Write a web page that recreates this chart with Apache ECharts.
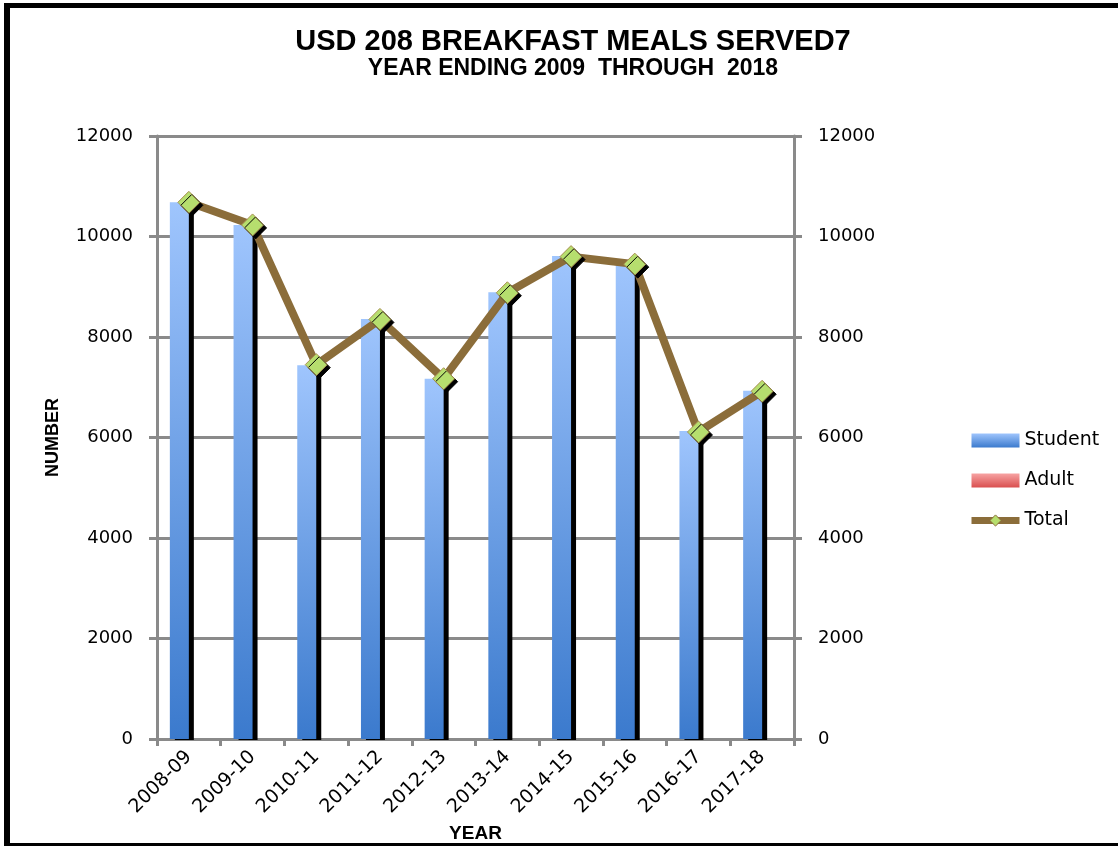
<!DOCTYPE html>
<html>
<head>
<meta charset="utf-8">
<script src="https://cdn.jsdelivr.net/npm/echarts@6/dist/echarts.min.js"></script>
<style>
html,body{margin:0;padding:0;background:#fff;}
#chart{width:1118px;height:846px;}
</style>
</head>
<body>
<div id="chart"></div>
<script>
const categories = ['2008-09','2009-10','2010-11','2011-12','2012-13','2013-14','2014-15','2015-16','2016-17','2017-18'];
const student = [10680, 10230, 7440, 8360, 7170, 8890, 9610, 9440, 6130, 6930];
const adult = [0, 0, 0, 0, 0, 0, 0, 0, 0, 0];
const total = [10680, 10230, 7450, 8350, 7170, 8880, 9600, 9450, 6110, 6920];
const yTicks = [0, 2000, 4000, 6000, 8000, 10000, 12000];

const chart = echarts.init(document.getElementById('chart'));
const labelFont = {fontFamily: 'DejaVu Sans', fontSize: 18, color: '#000'};
const axisLineStyle = {color: '#8a8a8a', width: 3};
const yMin = yTicks[0], yMax = yTicks[yTicks.length - 1], yInt = yTicks[1] - yTicks[0];
const plain = v => String(v);

chart.setOption({
  animation: false,
  backgroundColor: '#fff',
  title: [
    {text: 'USD 208 BREAKFAST MEALS SERVED7', left: 568, top: 22, textAlign: 'center',
     textStyle: {fontFamily: 'Liberation Sans', fontWeight: 'bold', fontSize: 29, color: '#000'}},
    {text: 'YEAR ENDING 2009  THROUGH  2018', left: 568, top: 52, textAlign: 'center',
     textStyle: {fontFamily: 'Liberation Sans', fontWeight: 'bold', fontSize: 23, color: '#000'}}
  ],
  grid: {left: 157, right: 324, top: 136, bottom: 107, containLabel: false, outerBoundsMode: 'none'},
  legend: {
    orient: 'vertical', left: 963, top: 426, itemGap: 21, itemWidth: 48, itemHeight: 14,
    data: [
      {name: 'Student', icon: 'rect'},
      {name: 'Adult', icon: 'rect'},
      {name: 'Total', lineStyle: {width: 7, color: '#8b6d3a'}, itemStyle: {color: '#b6de6e', borderColor: '#8b6d3a', borderWidth: 1}}
    ],
    textStyle: {fontFamily: 'DejaVu Sans', fontSize: 19, color: '#000'},
    itemStyle: {shadowBlur: 0, shadowColor: 'transparent', shadowOffsetX: 0, shadowOffsetY: 0}
  },
  xAxis: {
    type: 'category', data: categories, boundaryGap: true,
    name: 'YEAR', nameLocation: 'middle', nameGap: 81,
    nameTextStyle: {fontFamily: 'Liberation Sans', fontWeight: 'bold', fontSize: 19, color: '#000'},
    axisLine: {lineStyle: axisLineStyle},
    axisTick: {show: true, alignWithLabel: false, length: 7, lineStyle: axisLineStyle},
    axisLabel: {rotate: 45, margin: 15, interval: 0, fontSize: 19, fontFamily: 'DejaVu Sans', color: '#000'},
    splitLine: {show: false}
  },
  yAxis: [
    {type: 'value', min: yMin, max: yMax, interval: yInt, position: 'left',
     name: 'NUMBER', nameLocation: 'middle', nameGap: 95, nameRotate: 90,
     nameTextStyle: {fontFamily: 'Liberation Sans', fontWeight: 'bold', fontSize: 18, color: '#000'},
     axisLine: {show: true, lineStyle: axisLineStyle},
     axisTick: {show: true, length: 8, lineStyle: axisLineStyle},
     axisLabel: Object.assign({margin: 24, formatter: plain}, labelFont),
     splitLine: {show: true, lineStyle: {color: '#8a8a8a', width: 3}}},
    {type: 'value', min: yMin, max: yMax, interval: yInt, position: 'right',
     axisLine: {show: true, lineStyle: axisLineStyle},
     axisTick: {show: true, length: 8, lineStyle: axisLineStyle},
     axisLabel: Object.assign({margin: 24, formatter: plain}, labelFont),
     splitLine: {show: false}}
  ],
  series: [
    {name: 'Student', type: 'bar', data: student, barWidth: 19, barGap: '0%',
     itemStyle: {
       color: new echarts.graphic.LinearGradient(0, 0, 0, 1, [
         {offset: 0, color: '#9fc5fd'}, {offset: 1, color: '#3b7acd'}]),
       shadowColor: '#000', shadowBlur: 0, shadowOffsetX: 5, shadowOffsetY: 1
     }},
    {name: 'Adult', type: 'bar', data: adult, barWidth: 19, barGap: '0%',
     itemStyle: {
       color: new echarts.graphic.LinearGradient(0, 0, 0, 1, [
         {offset: 0, color: '#f7a3a3'}, {offset: 1, color: '#d94f4f'}])
     }},
    {name: 'Total', type: 'line', yAxisIndex: 1, data: total,
     symbol: 'diamond', symbolSize: 22,
     lineStyle: {color: '#8b6d3a', width: 8},
     itemStyle: {color: '#b6de6e', borderColor: '#a89050', borderWidth: 1,
                 shadowColor: '#000', shadowBlur: 0, shadowOffsetX: 3, shadowOffsetY: 3},
     z: 5}
  ],
  graphic: [
    {type: 'rect', shape: {x: 4, y: 3, width: 1114, height: 5}, style: {fill: '#000'}, silent: true},
    {type: 'rect', shape: {x: 4, y: 3, width: 6, height: 843}, style: {fill: '#000'}, silent: true},
    {type: 'rect', shape: {x: 4, y: 843, width: 1114, height: 3}, style: {fill: '#000'}, silent: true}
  ]
});
</script>
</body>
</html>
